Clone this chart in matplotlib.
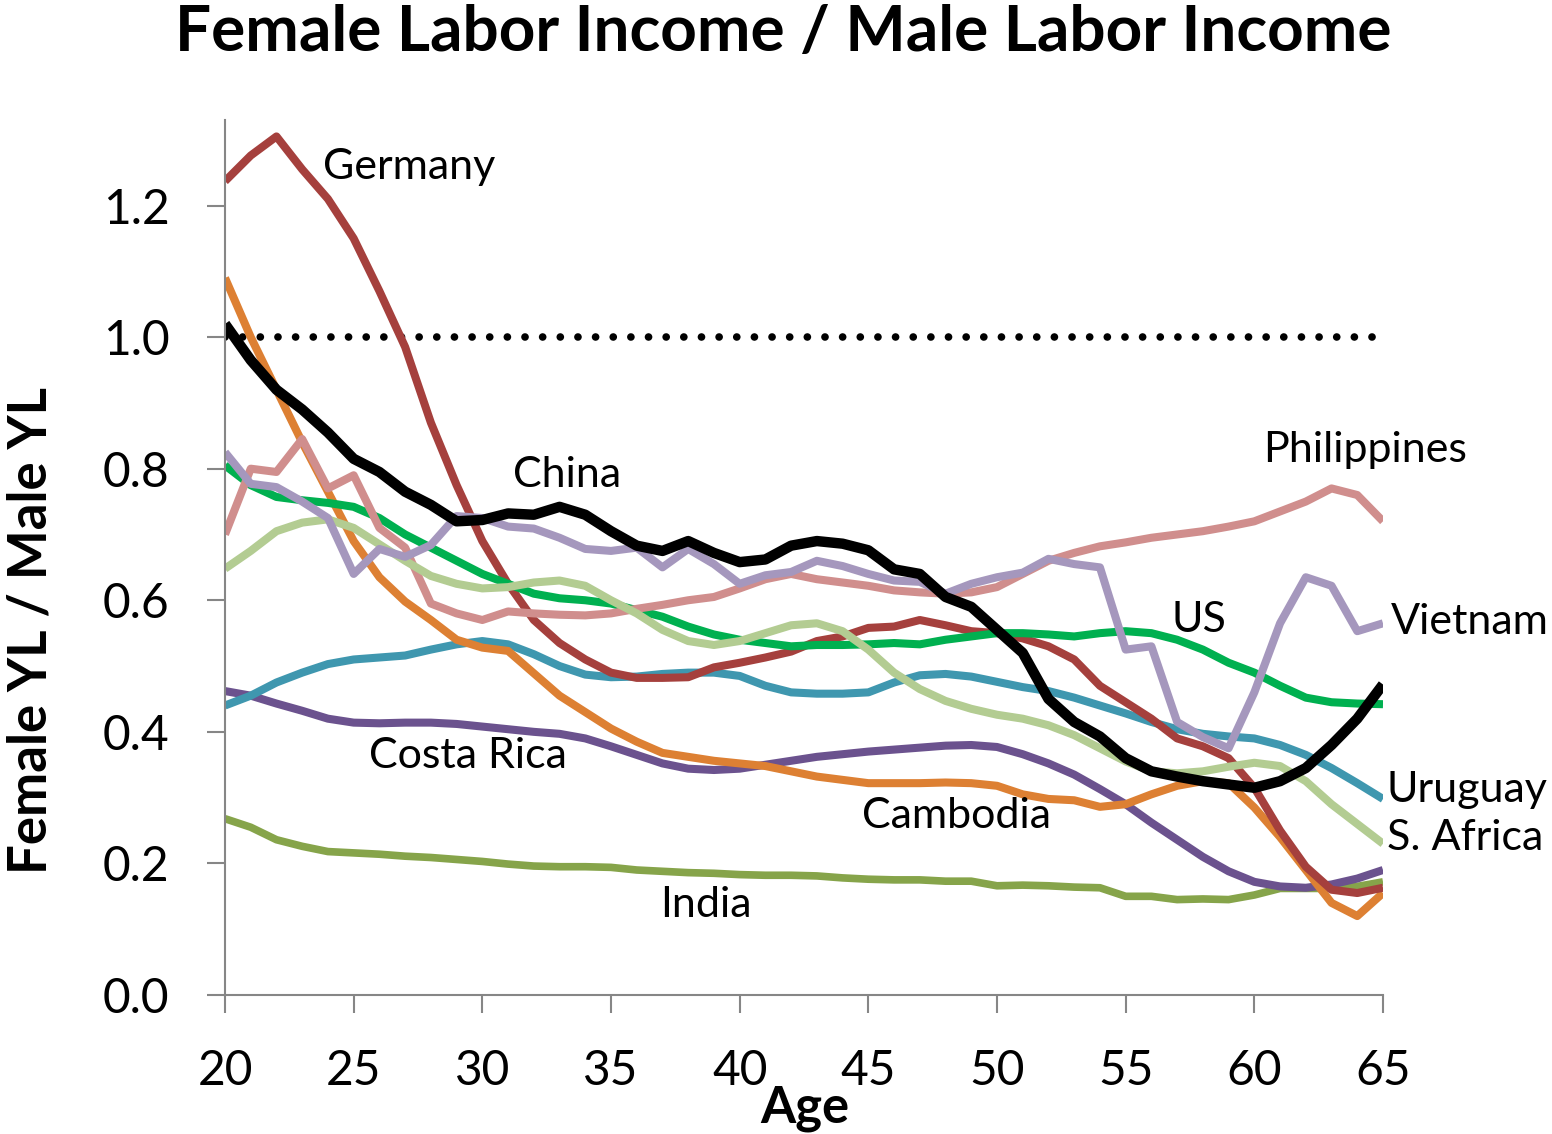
import numpy as np
import matplotlib.pyplot as plt

# ages 20..65
ages = list(range(20, 66))

germany = [1.237, 1.276, 1.305, 1.255, 1.21, 1.15, 1.07, 0.985, 0.87, 0.775,
           0.69, 0.625, 0.57, 0.535, 0.51, 0.49, 0.482, 0.482, 0.483, 0.498,
           0.505, 0.513, 0.522, 0.538, 0.545, 0.558, 0.56, 0.57, 0.562, 0.553,
           0.55, 0.542, 0.53, 0.51, 0.47, 0.445, 0.42, 0.39, 0.378, 0.36,
           0.315, 0.25, 0.195, 0.16, 0.155, 0.163]
china = [1.02, 0.965, 0.92, 0.89, 0.855, 0.815, 0.795, 0.765, 0.745, 0.72,
         0.722, 0.732, 0.73, 0.742, 0.73, 0.705, 0.683, 0.675, 0.69, 0.672,
         0.658, 0.662, 0.683, 0.69, 0.686, 0.676, 0.647, 0.64, 0.605, 0.59,
         0.555, 0.52, 0.45, 0.415, 0.393, 0.36, 0.34, 0.332, 0.325, 0.32,
         0.315, 0.325, 0.345, 0.38, 0.42, 0.472]
cambodia = [1.09, 1.0, 0.92, 0.84, 0.765, 0.69, 0.635, 0.598, 0.57, 0.54,
            0.528, 0.523, 0.489, 0.455, 0.43, 0.405, 0.385, 0.368, 0.362, 0.356,
            0.352, 0.348, 0.34, 0.332, 0.327, 0.322, 0.322, 0.322, 0.323, 0.322,
            0.318, 0.305, 0.298, 0.296, 0.286, 0.29, 0.305, 0.318, 0.325, 0.322,
            0.285, 0.24, 0.19, 0.14, 0.12, 0.155]
philippines = [0.70, 0.80, 0.795, 0.845, 0.77, 0.79, 0.71, 0.68, 0.595, 0.58,
               0.57, 0.583, 0.58, 0.578, 0.577, 0.58, 0.587, 0.593, 0.6, 0.605,
               0.618, 0.632, 0.64, 0.632, 0.627, 0.622, 0.615, 0.612, 0.61, 0.612,
               0.62, 0.64, 0.66, 0.672, 0.682, 0.688, 0.695, 0.70, 0.705, 0.712,
               0.72, 0.735, 0.75, 0.77, 0.76, 0.72]
vietnam = [0.825, 0.777, 0.772, 0.75, 0.725, 0.64, 0.678, 0.666, 0.684, 0.728,
           0.725, 0.712, 0.709, 0.695, 0.678, 0.675, 0.68, 0.65, 0.678, 0.655,
           0.625, 0.638, 0.643, 0.66, 0.652, 0.64, 0.63, 0.628, 0.61, 0.625,
           0.635, 0.642, 0.663, 0.655, 0.65, 0.525, 0.53, 0.415, 0.392, 0.375,
           0.46, 0.565, 0.635, 0.622, 0.553, 0.565]
us = [0.805, 0.775, 0.757, 0.752, 0.748, 0.742, 0.725, 0.70, 0.68, 0.66,
      0.64, 0.625, 0.61, 0.603, 0.60, 0.595, 0.585, 0.575, 0.56, 0.548,
      0.54, 0.535, 0.53, 0.532, 0.532, 0.533, 0.535, 0.533, 0.54, 0.545,
      0.55, 0.55, 0.548, 0.545, 0.55, 0.553, 0.55, 0.54, 0.525, 0.505,
      0.49, 0.47, 0.452, 0.445, 0.443, 0.442]
s_africa = [0.648, 0.675, 0.705, 0.718, 0.723, 0.71, 0.685, 0.66, 0.637, 0.625,
            0.618, 0.62, 0.627, 0.63, 0.622, 0.60, 0.58, 0.555, 0.538, 0.532,
            0.538, 0.55, 0.562, 0.565, 0.553, 0.525, 0.49, 0.465, 0.447, 0.435,
            0.426, 0.42, 0.41, 0.395, 0.375, 0.355, 0.34, 0.337, 0.34, 0.347,
            0.353, 0.348, 0.325, 0.29, 0.26, 0.23]
uruguay = [0.44, 0.455, 0.475, 0.49, 0.503, 0.51, 0.513, 0.516, 0.525, 0.533,
           0.538, 0.533, 0.518, 0.50, 0.487, 0.483, 0.484, 0.488, 0.49, 0.49,
           0.485, 0.47, 0.46, 0.458, 0.458, 0.46, 0.475, 0.486, 0.488, 0.484,
           0.476, 0.468, 0.462, 0.452, 0.44, 0.428, 0.415, 0.404, 0.397, 0.393,
           0.39, 0.38, 0.365, 0.345, 0.322, 0.298]
costa_rica = [0.462, 0.455, 0.443, 0.432, 0.42, 0.414, 0.413, 0.414, 0.414, 0.412,
              0.408, 0.404, 0.40, 0.397, 0.39, 0.378, 0.365, 0.352, 0.344, 0.342,
              0.344, 0.35, 0.356, 0.362, 0.366, 0.37, 0.373, 0.376, 0.379, 0.38,
              0.377, 0.366, 0.352, 0.335, 0.313, 0.29, 0.262, 0.236, 0.21, 0.188,
              0.172, 0.165, 0.163, 0.168, 0.177, 0.19]
india = [0.268, 0.255, 0.236, 0.226, 0.218, 0.216, 0.214, 0.211, 0.209, 0.206,
         0.203, 0.199, 0.196, 0.195, 0.195, 0.194, 0.19, 0.188, 0.186, 0.185,
         0.183, 0.182, 0.182, 0.181, 0.178, 0.176, 0.175, 0.175, 0.173, 0.173,
         0.166, 0.167, 0.166, 0.164, 0.163, 0.15, 0.15, 0.145, 0.146, 0.145,
         0.152, 0.162, 0.162, 0.162, 0.165, 0.172]

parity = 1.0

# label text, x (age), y (ratio)
labels = [("Germany", 23.8, 1.259), ("China", 31.2, 0.79),
          ("Philippines", 60.35, 0.828), ("US", 56.8, 0.57),
          ("Vietnam", 65.3, 0.567), ("Uruguay", 65.15, 0.311),
          ("S. Africa", 65.15, 0.238), ("Costa Rica", 25.6, 0.363),
          ("Cambodia", 44.75, 0.272), ("India", 36.9, 0.137)]

plt.rcParams['font.family'] = ['Lato', 'DejaVu Sans']

fig = plt.figure(figsize=(15.52, 11.34), dpi=100)
ax = fig.add_axes([225/1552, 139/1134, 1158/1552, 875/1134])

# parity line
ax.plot([ages[0], ages[-1]], [parity, parity], color='black', lw=5.5,
        linestyle=(0, (0.01, 2.3)), dash_capstyle='round', zorder=1)

series = [
    (india, '#86A44A', 5.5),
    (costa_rica, '#6B528E', 5.8),
    (uruguay, '#3F97AF', 5.8),
    (cambodia, '#DD8033', 5.8),
    (germany, '#A5403D', 5.8),
    (us, '#00B050', 5.8),
    (philippines, '#D08E8D', 5.8),
    (s_africa, '#B3CC92', 5.8),
    (vietnam, '#A597BD', 5.8),
    (china, 'black', 7.5),
]
for vals, col, lw in series:
    ax.plot(ages, vals, color=col, lw=lw, solid_capstyle='butt',
            solid_joinstyle='round')

for txt, x, y in labels:
    ax.text(x, y, txt, fontsize=31, ha='left', va='center', clip_on=False)

ax.set_xlim(20, 65)
ax.set_ylim(0, 1.33)
ax.set_xticks(range(20, 66, 5))
ax.set_yticks([0.0, 0.2, 0.4, 0.6, 0.8, 1.0, 1.2])
ax.set_yticklabels(['0.0', '0.2', '0.4', '0.6', '0.8', '1.0', '1.2'])

for s in ['top', 'right']:
    ax.spines[s].set_visible(False)
for s in ['left', 'bottom']:
    ax.spines[s].set_color('#868686')
    ax.spines[s].set_linewidth(1.5)
ax.tick_params(axis='y', labelsize=34.5, length=13, width=1.5, color='#868686', pad=27)
ax.tick_params(axis='x', labelsize=34.5, length=13, width=1.5, color='#868686', pad=26)

fig.text(783/1552, 1 - 33/1134, 'Female Labor Income / Male Labor Income',
         fontsize=46, fontweight='bold', ha='center', va='center')
fig.text(31/1552, 1 - 630/1134, 'Female YL / Male YL', fontsize=38,
         fontweight='bold', rotation=90, ha='center', va='center')
fig.text(805/1552, 1 - 1108/1134, 'Age', fontsize=36.5, fontweight='bold',
         ha='center', va='center')

fig.savefig('out.png', dpi=100)
